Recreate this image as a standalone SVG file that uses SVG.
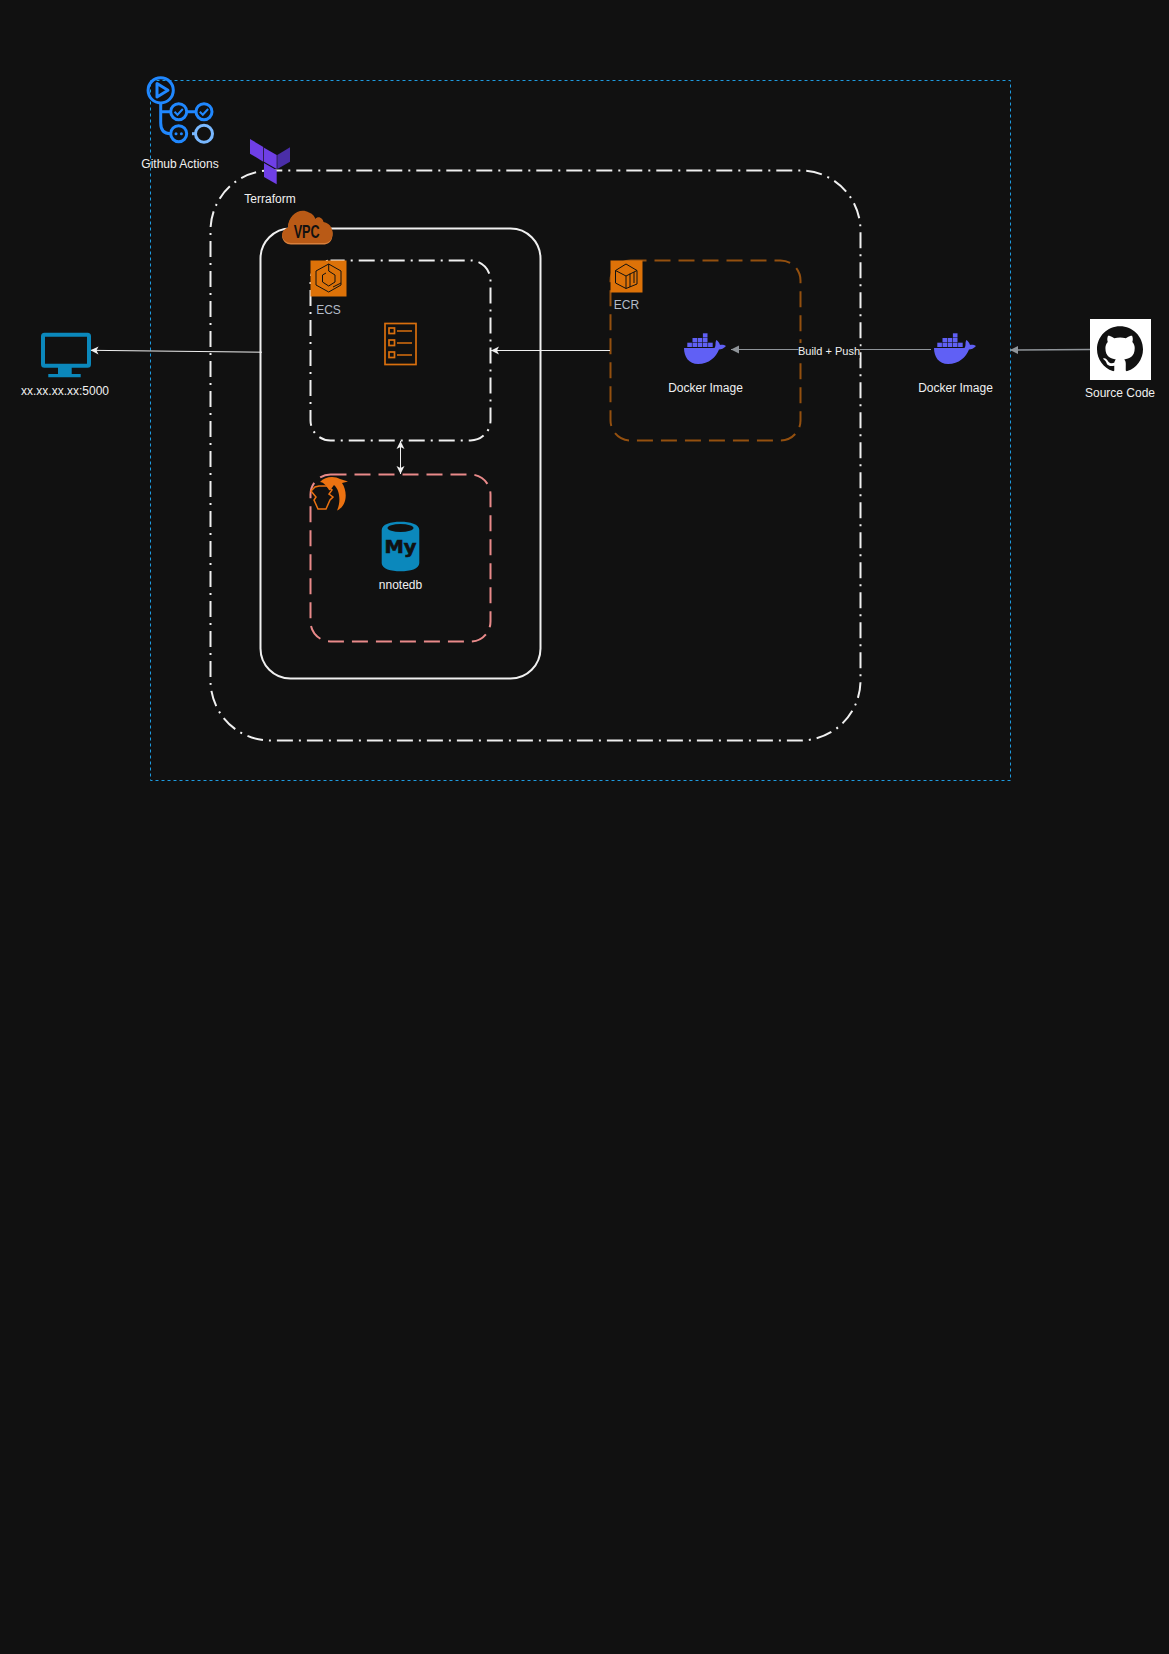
<svg xmlns="http://www.w3.org/2000/svg" width="1169" height="1654" viewBox="0 0 1169 1654">
<style>
text{font-family:"Liberation Sans",Arial,sans-serif;font-size:12px;fill:#f0f0f0;text-anchor:middle}
.dd{fill:none;stroke:#f0f0f0;stroke-width:2;stroke-dasharray:16 6 2 6}
.dash{fill:none;stroke-width:2;stroke-dasharray:16 8}
.wh{fill:none;stroke:#f0f0f0;stroke-width:1}
.gr{fill:none;stroke:#8f9499;stroke-width:1}
.ic{fill:none;stroke:#111;stroke-width:1}
.ga{fill:none;stroke:#2088ff;stroke-width:3}
.tk{fill:none;stroke:#d96f0e;stroke-width:1.7}
</style>
<defs>
<marker id="aw" markerWidth="9" markerHeight="10" refX="8.500" refY="5" orient="auto-start-reverse" markerUnits="userSpaceOnUse"><path d="M0.500 1L8.500 5L0.500 9L2.500 5Z" fill="#f0f0f0"/></marker>
<marker id="ag" markerWidth="9" markerHeight="10" refX="8.500" refY="5" orient="auto" markerUnits="userSpaceOnUse"><path d="M0.500 1L8.500 5L0.500 9Z" fill="#8f9499"/></marker>
<g id="whale" fill="#6060f5">
<rect x="3.300" y="9.700" width="4.600" height="4.300"/><rect x="8.500" y="9.700" width="4.600" height="4.300"/><rect x="13.700" y="9.700" width="4.600" height="4.300"/><rect x="18.900" y="9.700" width="4.600" height="4.300"/><rect x="24.100" y="9.700" width="4.600" height="4.300"/>
<rect x="8.500" y="5" width="4.600" height="4.200"/><rect x="13.700" y="5" width="4.600" height="4.200"/><rect x="18.900" y="5" width="4.600" height="4.200"/>
<rect x="18.900" y="0.300" width="4.600" height="4.200"/>
<path d="M0 15H30C31 15 31.500 13 31.500 11C31.500 9 32 7.500 32.500 7C34 8 35.500 10 36 12C38 11.500 40.500 12 42 13C40 15.500 37 16.500 35 16.500C32 24 25 31 14 31C5 31 0 24 0 15Z"/>
</g>
</defs>
<rect width="1169" height="1654" fill="#111111"/>

<g id="aws-account"><rect x="150.500" y="80.500" width="860" height="700" fill="none" stroke="#1e9be0" stroke-width="1" stroke-dasharray="3 3"/></g>
<g id="cloud-region"><path class="dd" stroke-dashoffset="4.200" d="M270.500 170.500H800.500A60 60 0 0 1 860.500 230.500V680.500A60 60 0 0 1 800.500 740.500H270.500A60 60 0 0 1 210.500 680.500V230.500A60 60 0 0 1 270.500 170.500Z"/></g>
<g id="vpc-box"><rect x="260.500" y="228.500" width="280" height="450" rx="30" fill="none" stroke="#f0f0f0" stroke-width="2"/></g>
<g id="ecs-box"><path class="dd" stroke-dashoffset="1.800" d="M330.500 260.500H470.500A20 20 0 0 1 490.500 280.500V420.500A20 20 0 0 1 470.500 440.500H330.500A20 20 0 0 1 310.500 420.500V280.500A20 20 0 0 1 330.500 260.500Z"/></g>
<g id="rds-box"><rect class="dash" x="310.500" y="474.500" width="180" height="167" rx="20" stroke="#e98a8a"/></g>
<g id="ecr-box"><rect class="dash" x="610.500" y="260.500" width="190" height="180" rx="20" stroke="#94500f"/></g>

<g id="connectors">
<path class="wh" marker-end="url(#aw)" d="M262 352.200L90.500 350.300"/>
<path class="wh" marker-end="url(#aw)" d="M610 350.500H491"/>
<path class="wh" marker-start="url(#aw)" marker-end="url(#aw)" d="M400.500 441V474"/>
<path class="gr" marker-end="url(#ag)" d="M931 349.500H731"/>
<path fill="none" stroke="#8f9499" stroke-width="1.500" marker-end="url(#ag)" d="M1090 349.500L1010 350"/>
<rect x="798.500" y="343" width="61" height="15" fill="#111111"/>
<text x="829" y="355" style="font-size:11px">Build + Push</text>
</g>

<g id="github-actions">
<circle class="ga" cx="160.700" cy="90.300" r="12.600"/>
<path class="ga" stroke-width="2" stroke-linejoin="round" d="M157 83.500L168 90.300L157 97Z"/>
<path class="ga" d="M160.700 103V123Q160.700 133.700 170.500 133.700M160.700 111.700H170.500M187 111.700H195.500"/>
<circle class="ga" cx="178.700" cy="111.700" r="8"/>
<circle class="ga" cx="204" cy="111.700" r="8"/>
<circle class="ga" cx="178.700" cy="133.700" r="8"/>
<path class="ga" style="stroke-width:2" d="M174.500 111.700L177.500 114.700L182.800 109M199.800 111.700L202.800 114.700L208.100 109"/>
<circle cx="176" cy="133.700" r="1.500" fill="#2088ff"/><circle cx="181.400" cy="133.700" r="1.500" fill="#2088ff"/>
<path fill="none" stroke="#79b8ff" stroke-width="3" d="M192 133.700H195.500"/>
<circle cx="204" cy="133.700" r="8.500" fill="none" stroke="#79b8ff" stroke-width="3"/>
<text x="180" y="168">Github Actions</text>
</g>

<g id="terraform">
<path fill="#6f3fe6" d="M250 139L263.300 147V161.700L250 153.700Z"/>
<path fill="#6f3fe6" d="M264 147.700L276.700 155V169L264 161.700Z"/>
<path fill="#4a2ea8" d="M277.300 155L290 147.300V161.700L277.300 169Z"/>
<path fill="#6f3fe6" d="M264 163L276.700 170.300V184.300L264 177Z"/>
<text x="270" y="203">Terraform</text>
</g>

<g id="vpc-icon">
<path fill="#d9803c" d="M291 244.500C282 244.500 278 232 288 228.500C288 216 300 208 309 213.500C313 215 315 218 315 220C319 216 323 220 323.500 223C331 224 334 232 332 238C331 242 328 244.500 323 244.500Z"/>
<path fill="#b95a16" d="M291 243C282 243 278 231 288 227.500C288 215 300 207 309 212.500C313 214 315 217 315 219C319 215 323 219 323.500 222C331 223 334 231 332 237C331 241 328 243 323 243Z"/>
<text x="306.700" y="238" textLength="26" lengthAdjust="spacingAndGlyphs" style="font-size:18px;font-weight:bold;fill:#111">VPC</text>
</g>

<g id="ecs-icon">
<rect x="310.500" y="260.500" width="36" height="36" fill="#dd7208"/>
<path class="ic" d="M328.700 264L341 271V285L328.700 292L316 285V271ZM328.700 264V271L335 275V282L328.700 286L322.500 282V275L326 273M333 287L341 283"/>
<text x="328.500" y="314" style="fill:#b4bcc8">ECS</text>
</g>

<g id="ecs-task">
<rect class="tk" x="385" y="323.500" width="31" height="41"/>
<rect class="tk" x="389" y="328" width="5.500" height="5.500"/>
<rect class="tk" x="389" y="340" width="5.500" height="5.500"/>
<rect class="tk" x="389" y="352" width="5.500" height="5.500"/>
<path class="tk" d="M397 331H412M397 343H412M397 355H412"/>
</g>

<g id="rds-icon">
<path fill="#ec7211" d="M320 482C325 476 335 476 340 479L348 481.500L342 483C348 492 347 506 337 510.500C341 502 340 490 334 485C331 489 330 491 329 490C326 485 323 482 320 482Z"/>
<path fill="none" stroke="#ec7211" stroke-width="1.500" d="M319 486H327L332 490L329 494L333 497L330 500L326 509H318L314 500L316 497L311 491L315 487Z"/>
</g>

<g id="nnotedb">
<path fill="#0b88bc" d="M381.700 530C381.700 524 391 521.700 400.500 521.700C410 521.700 419.300 524 419.300 530V563C419.300 569 410 571.300 400.500 571.300C391 571.300 381.700 569 381.700 563Z"/>
<ellipse cx="400.500" cy="528" rx="13" ry="4" fill="#111"/>
<text x="400.500" y="553" textLength="32" lengthAdjust="spacingAndGlyphs" style="font-family:'DejaVu Sans',sans-serif;font-size:17px;font-weight:bold;fill:#111;stroke:#111;stroke-width:.6">My</text>
<text x="400.500" y="589">nnotedb</text>
</g>

<g id="ecr-icon">
<rect x="610.500" y="260.500" width="32" height="32" fill="#dd7208"/>
<path class="ic" d="M626 264L637 270.500V284L626 288.500L615.500 283V270.500ZM615.500 270.500L626 276V288.500M626 276L637 270.500M630 273.500V287M634 272V283"/>
<text x="626.500" y="309" style="fill:#b4bcc8">ECR</text>
</g>

<g id="docker-ecr"><use href="#whale" transform="translate(684 333)"/><text x="705.500" y="392">Docker Image</text></g>
<g id="docker-local"><use href="#whale" transform="translate(934 333)"/><text x="955.500" y="392">Docker Image</text></g>

<g id="source-code">
<rect x="1090" y="319" width="61" height="61" fill="#fff"/>
<path fill="#111" transform="translate(1097 326.300) scale(2.875)" d="M8 0C3.58 0 0 3.58 0 8c0 3.54 2.29 6.53 5.47 7.59.4.07.55-.17.55-.38 0-.19-.01-.82-.01-1.49-2.01.37-2.53-.49-2.69-.94-.09-.23-.48-.94-.82-1.13-.28-.15-.68-.52-.01-.53.63-.01 1.08.58 1.23.82.72 1.21 1.87.87 2.33.66.07-.52.28-.87.51-1.07-1.78-.2-3.64-.89-3.64-3.95 0-.87.31-1.59.82-2.15-.08-.2-.36-1.02.08-2.12 0 0 .67-.21 2.2.82.64-.18 1.32-.27 2-.27.68 0 1.36.09 2 .27 1.53-1.04 2.2-.82 2.2-.82.44 1.1.16 1.92.08 2.12.51.56.82 1.27.82 2.15 0 3.07-1.87 3.75-3.65 3.95.29.25.54.73.54 1.48 0 1.07-.01 1.93-.01 2.2 0 .21.15.46.55.38A8.013 8.013 0 0016 8c0-4.42-3.58-8-8-8z"/>
<text x="1120" y="397">Source Code</text>
</g>

<g id="client">
<rect x="43" y="334.700" width="46" height="31" rx="1.500" fill="none" stroke="#0b88bc" stroke-width="4"/>
<path fill="#0b88bc" d="M58 367H71.700V374H80.700V377.300H48.300V374H58Z"/>
<text x="65" y="395">xx.xx.xx.xx:5000</text>
</g>
</svg>
